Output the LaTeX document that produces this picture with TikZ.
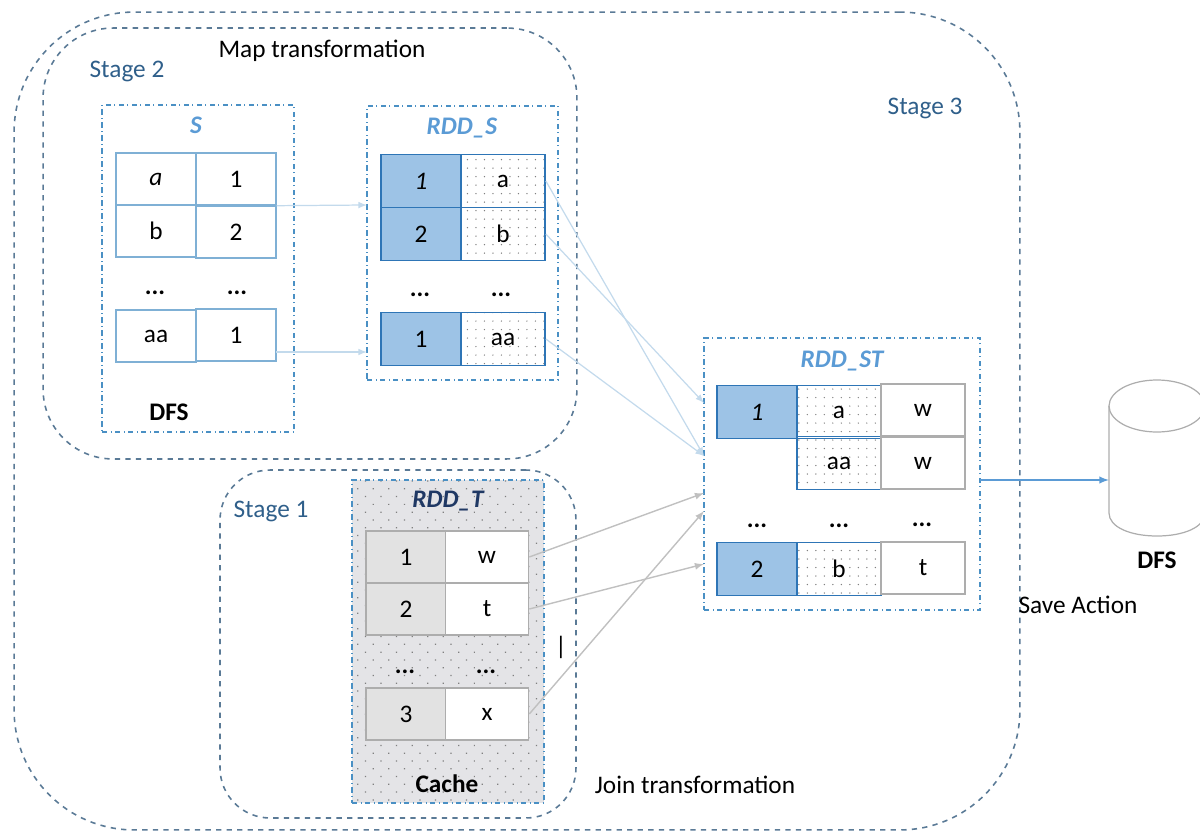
\documentclass[tikz,border=0pt]{standalone}
\usepackage{fontspec}
\setmainfont{Carlito}
\usepackage{tikz}
\usetikzlibrary{arrows,patterns.meta}
\definecolor{stageline}{HTML}{5A7A96}
\definecolor{stagetext}{HTML}{2F5F8A}
\definecolor{boxline}{HTML}{4A90C4}
\definecolor{titleblue}{HTML}{5B9BD5}
\definecolor{titlenavy}{HTML}{1F3864}
\definecolor{keyfill}{HTML}{9DC3E6}
\definecolor{keyline}{HTML}{2E75B6}
\definecolor{plainline}{HTML}{7FB0D5}
\definecolor{cachefill}{HTML}{E4E4E7}
\definecolor{grayfill}{HTML}{E2E2E2}
\definecolor{grayline}{HTML}{ADADAD}
\definecolor{linkblue}{HTML}{C3DAEC}
\definecolor{linkgray}{HTML}{C0C0C0}
\newcommand{\size}{\fontsize{14.4}{17}\selectfont}
\tikzset{
  stagebox/.style={draw=stageline, dashed, line width=0.9pt, inner sep=0},
  framebox/.style={draw=boxline, dash dot, line width=0.8pt, inner sep=0},
  plaincell/.style={draw=plainline, line width=0.8pt, minimum width=1.6cm, minimum height=1.04cm, inner sep=0, font=\size},
  keycell/.style={draw=keyline, fill=keyfill, line width=1pt, minimum width=1.6cm, minimum height=1.06cm, inner sep=0, font=\size},
  dotcell/.style={draw=keyline, line width=1pt, pattern={Dots[distance=0.17cm,radius=0.42pt]}, pattern color=gray, minimum width=1.68cm, minimum height=1.06cm, inner sep=0, font=\size},
  graycell/.style={draw=grayline, fill=grayfill, line width=0.9pt, minimum width=1.6cm, minimum height=1.04cm, inner sep=0, font=\size},
  whitecell/.style={draw=grayline, fill=white, line width=0.9pt, minimum width=1.66cm, minimum height=1.04cm, inner sep=0, font=\size},
  label/.style={font=\size, inner sep=0},
  boldlabel/.style={font=\size\bfseries, inner sep=0},
  dotslabel/.style={font=\size\bfseries, inner sep=0},
  stagelabel/.style={font=\size, text=stagetext, inner sep=0},
  title/.style={font=\size\bfseries\itshape, text=titleblue, inner sep=0},
  bluelink/.style={->, draw=linkblue, line width=0.7pt},
  graylink/.style={->, draw=linkgray, line width=0.8pt},
}
\begin{document}
\begin{tikzpicture}[x=0.02cm, y=-0.02cm, >=latex]
  \useasboundingbox (0,0) rectangle (1200,831);
  \node [stagebox, minimum width=20.12cm, minimum height=16.36cm, rounded corners=2.4cm] (stage-three) at (517,421) {};
  \node [stagebox, minimum width=10.68cm, minimum height=8.62cm, rounded corners=1.4cm] (stage-two) at (310,243.5) {};
  \node [stagebox, minimum width=7.12cm, minimum height=6.96cm, rounded corners=1cm] (stage-one) at (398,644) {};
  \node [framebox, minimum width=3.84cm, minimum height=6.54cm] (s) at (198,268.5) {};
  \node [framebox, minimum width=3.82cm, minimum height=5.48cm] (rdd-s) at (462.5,243) {};
  \node [framebox, minimum width=5.52cm, minimum height=5.44cm] (rdd-st) at (842,474) {};
  \node [framebox, preaction={fill=cachefill}, pattern={Dots[distance=0.22cm,radius=0.5pt,angle=45]}, pattern color=gray, minimum width=3.84cm, minimum height=6.46cm] (rdd-t) at (448,641.5) {};
  \node [label] (map-label) at (322,51) {Map transformation};
  \node [stagelabel] (stage-two-label) at (127,71) {Stage 2};
  \node [stagelabel] (stage-three-label) at (925,108) {Stage 3};
  \node [stagelabel] (stage-one-label) at (271,511) {Stage 1};
  \node [label] (join-label) at (695,785) {Join transformation};
  \node [label] (save-label) at (1078,605) {Save Action};
  \node [title] (s-title) at (196,125) {S};
  \node [title] (rdd-s-title) at (462,128) {RDD\_S};
  \node [title] (rdd-st-title) at (842,361) {RDD\_ST};
  \node [title, text=titlenavy] (rdd-t-title) at (448,501) {RDD\_T};
  \node [plaincell] (s-a) at (156,179) {\itshape a};
  \node [plaincell] (s-a-val) at (236,179) {1};
  \node [plaincell] (s-b) at (156,231) {b};
  \node [plaincell] (s-b-val) at (236,232) {2};
  \node [dotslabel] (s-dots-l) at (155,293) {...};
  \node [dotslabel] (s-dots-r) at (237,293) {...};
  \node [plaincell] (s-aa) at (156,336) {aa};
  \node [plaincell] (s-aa-val) at (236,335) {1};
  \node [boldlabel] (s-store) at (169,412) {DFS};
  \node [keycell] (rs-one) at (421,181) {\itshape 1};
  \node [dotcell] (rs-a) at (503,181) {a};
  \node [keycell] (rs-two) at (421,234) {2};
  \node [dotcell] (rs-b) at (503,234) {b};
  \node [dotslabel] (rs-dots-l) at (420,295) {...};
  \node [dotslabel] (rs-dots-r) at (501,295) {...};
  \node [keycell] (rs-three) at (421,339) {1};
  \node [dotcell] (rs-aa) at (503,339) {aa};
  \node [graycell] (rt-one) at (406,557) {1};
  \node [whitecell] (rt-w) at (487,557) {w};
  \node [graycell] (rt-two) at (406,609) {2};
  \node [whitecell] (rt-t) at (487,609) {t};
  \node [dotslabel] (rt-dots-l) at (405,672) {...};
  \node [dotslabel] (rt-dots-r) at (486,672) {...};
  \node [graycell] (rt-three) at (406,714) {3};
  \node [whitecell] (rt-x) at (487,714) {x};
  \node [boldlabel] (rt-store) at (447,784) {Cache};
  \node [label] (cursor-mark) at (561,647) {|};
  \node [keycell] (st-one) at (757,412) {\itshape 1};
  \node [dotcell] (st-a) at (839,412) {a};
  \node [whitecell, minimum width=1.68cm] (st-a-w) at (923,410) {w};
  \node [dotcell] (st-aa) at (839,463) {aa};
  \node [whitecell, minimum width=1.68cm] (st-aa-w) at (923,463) {w};
  \node [dotslabel] (st-dots-l) at (757,526) {...};
  \node [dotslabel] (st-dots-m) at (839,526) {...};
  \node [dotslabel] (st-dots-r) at (922,525) {...};
  \node [keycell] (st-two) at (757,569) {2};
  \node [dotcell] (st-b) at (839,569) {b};
  \node [whitecell, minimum width=1.68cm] (st-t) at (923,568) {t};
  \draw [draw=grayline, line width=0.7pt] (1157,406) ellipse [x radius=0.96cm, y radius=0.52cm];
  \draw [draw=grayline, line width=0.7pt] (1109,406) -- (1109,513) .. controls (1109,527) and (1130,536) .. (1157,536) .. controls (1184,536) and (1205,527) .. (1205,513);
  \node [boldlabel] (store-label) at (1157,560) {DFS};
  \coordinate (st-in-one) at (704,403);
  \coordinate (st-in-two) at (704,456);
  \coordinate (st-in-three) at (704,493);
  \coordinate (st-in-four) at (704,511);
  \coordinate (st-in-five) at (704,564);
  \coordinate (rs-in-one) at (367,205);
  \coordinate (rs-in-two) at (367,352);
  \coordinate (s-out-two) at (276,352);
  \coordinate (st-out) at (980,480);
  \coordinate (store-in) at (1109,480);
  \draw [bluelink] (s-a-val.south east) to (rs-in-one);
  \draw [bluelink] (s-out-two) to (rs-in-two);
  \draw [bluelink] (rs-a.east) to (st-in-two);
  \draw [bluelink] (rs-b.east) to (st-in-one);
  \draw [bluelink] (rs-aa.east) to (st-in-two);
  \draw [graylink] (rt-w.east) to (st-in-three);
  \draw [graylink] (rt-t.east) to (st-in-five);
  \draw [graylink] (rt-x.east) to (st-in-four);
  \draw [->, draw=titleblue, line width=0.9pt] (st-out) to (store-in);
\end{tikzpicture}
\end{document}
